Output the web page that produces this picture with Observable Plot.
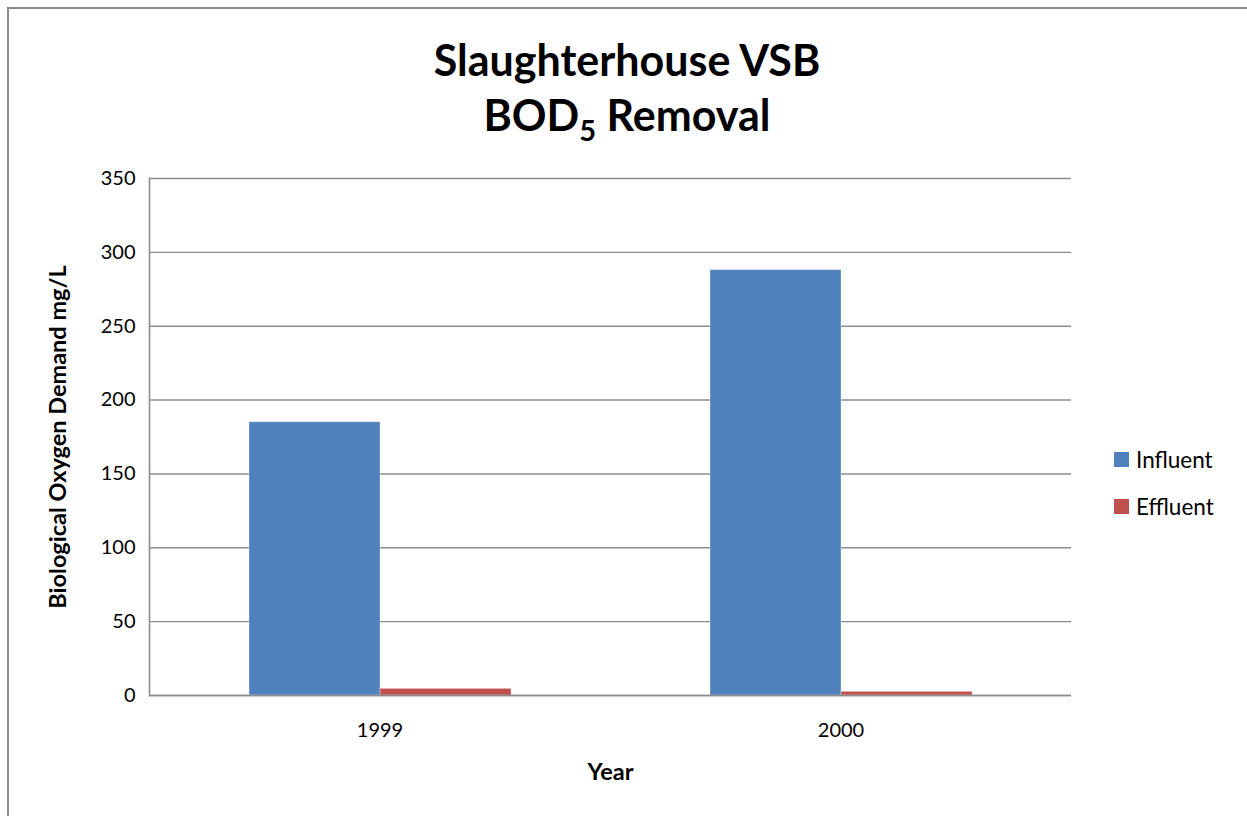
<!DOCTYPE html>
<html>
<head>
<meta charset="utf-8">
<script src="https://cdn.jsdelivr.net/npm/d3@7"></script>
<script src="https://cdn.jsdelivr.net/npm/@observablehq/plot@0.6"></script>
<style>
  html, body { margin: 0; padding: 0; background: #fff; }
  #wrap { position: relative; width: 1247px; height: 816px; overflow: hidden; background: #fff; font-family: Lato, "Open Sans", sans-serif; }
  #border { position: absolute; left: 7px; top: 7px; width: 1260px; height: 830px; border-left: 2px solid #8c8c8c; border-top: 2px solid #8c8c8c; box-sizing: border-box; }
  #title { position: absolute; left: 0; width: 1254px; top: 32px; text-align: center; font-weight: bold; font-size: 43px; line-height: 55px; color: #000; }
  #title sub { font-size: 29px; line-height: 0; vertical-align: -10px; }
  #chart { position: absolute; left: 0; top: 0; }
  #legend { position: absolute; left: 1114px; top: 436px; font-size: 22.5px; color: #000; }
  #legend .item { display: flex; align-items: center; height: 47px; line-height: 26px; }
  #legend .sw { width: 15px; height: 15px; margin-right: 7px; }
  #chart svg [aria-label="fx-axis label"] text, #chart svg [aria-label="y-axis label"] text { font-weight: bold; font-size: 23.5px; }
</style>
</head>
<body>
<div id="wrap">
  <div id="border"></div>
  <div id="chart"></div>
  <div id="title">Slaughterhouse VSB<br>BOD<sub>5</sub> Removal</div>
  <div id="legend"></div>
</div>
<script>
const years = ["1999", "2000"];
const series = ["Influent", "Effluent"];
const influent = [185, 288];
const effluent = [4.5, 2.5];
const colors = ["#4F81BD", "#C0504D"];
const yTicks = [0, 50, 100, 150, 200, 250, 300, 350];

const data = [];
years.forEach((yr, i) => {
  data.push({year: yr, series: "Influent", value: influent[i]});
  data.push({year: yr, series: "Effluent", value: effluent[i]});
});

const chart = Plot.plot({
  width: 1247,
  height: 816,
  marginLeft: 148,
  marginRight: 176,
  marginTop: 178,
  marginBottom: 121,
  style: {fontFamily: "Lato, 'Open Sans', sans-serif", fontSize: "20px", color: "#000", background: "transparent"},
  fx: {domain: years, padding: 0},
  x: {domain: series, paddingInner: 0, paddingOuter: 0.75, axis: null},
  y: {domain: [0, 350]},
  color: {domain: series, range: colors},
  marks: [
    Plot.gridY(yTicks, {stroke: "#8c8c8c", strokeOpacity: 1, strokeWidth: 1.4}),
    Plot.barY(data, {fx: "year", x: "series", y: "value", fill: "series", stroke: "#ffffff", strokeOpacity: 0.35, strokeWidth: 1}),
    Plot.ruleY([0], {stroke: "#8c8c8c", strokeWidth: 1.6}),
    Plot.frame({anchor: "left", fx: [years[0]], stroke: "#8c8c8c", strokeWidth: 1.6}),
    Plot.axisY(yTicks, {tickSize: 0, tickPadding: 14, label: "Biological Oxygen Demand mg/L", labelAnchor: "center", labelArrow: "none", labelOffset: 100, fontSize: 20}),
    Plot.axisFx({anchor: "bottom", tickSize: 0, tickPadding: 27, label: "Year", labelAnchor: "center", labelArrow: "none", labelOffset: 84, fontSize: 20})
  ]
});
document.getElementById("chart").appendChild(chart);

const leg = document.getElementById("legend");
series.forEach((s, i) => {
  const it = document.createElement("div");
  it.className = "item";
  const sw = document.createElement("span");
  sw.className = "sw";
  sw.style.background = colors[i];
  const tx = document.createElement("span");
  tx.textContent = s;
  it.appendChild(sw);
  it.appendChild(tx);
  leg.appendChild(it);
});
</script>
</body>
</html>
